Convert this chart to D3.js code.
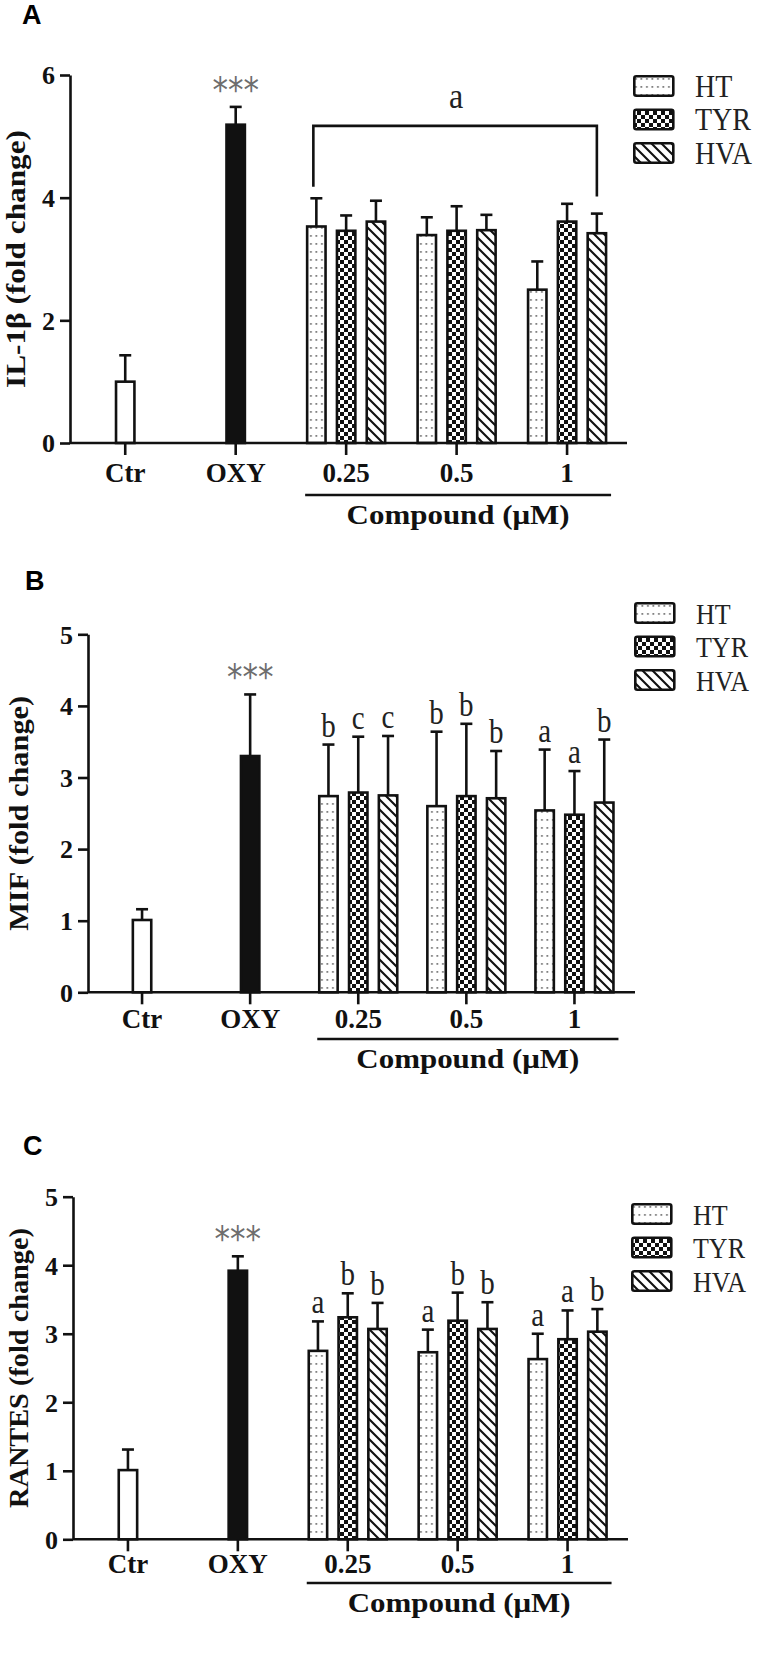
<!DOCTYPE html>
<html><head><meta charset="utf-8">
<script src="https://cdn.jsdelivr.net/npm/d3@7"></script>
<style>body{margin:0;background:#fff} svg{display:block}</style>
</head><body>
<svg id="chart" width="760" height="1660"></svg>
<script>
// ---------- data ----------
const categories = ["Ctr", "OXY", "0.25", "0.5", "1"];
const doses = ["0.25", "0.5", "1"];
const series = ["HT", "TYR", "HVA"];
const panelLetters = ["A", "B", "C"];
const yTitles = ["IL-1β (fold change)", "MIF (fold change)", "RANTES (fold change)"];
const xTitle = "Compound (μM)";
const yTicksA = [0, 2, 4, 6];
const yTicksB = [0, 1, 2, 3, 4, 5];
const yTicksC = [0, 1, 2, 3, 4, 5];

// Panel A: IL-1β
const il1bCtrOxy = [1.00, 5.19];
const il1bCtrOxySD = [0.43, 0.29];
const il1bHT = [3.53, 3.39, 2.50];
const il1bHTsd = [0.46, 0.29, 0.46];
const il1bTYR = [3.46, 3.46, 3.61];
const il1bTYRsd = [0.25, 0.40, 0.29];
const il1bHVA = [3.61, 3.47, 3.42];
const il1bHVAsd = [0.34, 0.25, 0.32];
const il1bBracketLabel = "a";
const il1bBracketLevel = 5.17;
const il1bBracketLegEnds = [4.18, 4.02];

// Panel B: MIF
const mifCtrOxy = [1.01, 3.30];
const mifCtrOxySD = [0.15, 0.86];
const mifHT = [2.74, 2.60, 2.54];
const mifHTsd = [0.72, 1.04, 0.85];
const mifTYR = [2.79, 2.74, 2.48];
const mifTYRsd = [0.78, 1.01, 0.61];
const mifHVA = [2.75, 2.71, 2.65];
const mifHVAsd = [0.83, 0.66, 0.88];
const mifLetters = [["b", "b", "a"], ["c", "b", "a"], ["c", "b", "b"]];

// Panel C: RANTES
const rantesCtrOxy = [1.01, 3.92];
const rantesCtrOxySD = [0.30, 0.21];
const rantesHT = [2.75, 2.73, 2.63];
const rantesHTsd = [0.43, 0.33, 0.37];
const rantesTYR = [3.24, 3.19, 2.92];
const rantesTYRsd = [0.35, 0.41, 0.42];
const rantesHVA = [3.07, 3.07, 3.03];
const rantesHVAsd = [0.38, 0.39, 0.33];
const rantesLetters = [["a", "a", "a"], ["b", "b", "a"], ["b", "b", "b"]];

const sigMark = "***";

// ---------- layout ----------
const panels = [
  { letter: panelLetters[0], title: yTitles[0], ticks: yTicksA, yMax: 6,
    ctr: il1bCtrOxy, ctrSD: il1bCtrOxySD,
    vals: [il1bHT, il1bTYR, il1bHVA], sds: [il1bHTsd, il1bTYRsd, il1bHVAsd], letters: null,
    axisX: 70, top: 75, bottom: 443, rangeEnd: 622.3, axisEnd: 627,
    legend: { x: 633, y: 75 }, legendFont: 28, letterPos: [22, 24],
    titleX: 25, titleLen: 258, compoundY: 495, xLabelY: 482 },
  { letter: panelLetters[1], title: yTitles[1], ticks: yTicksB, yMax: 5,
    ctr: mifCtrOxy, ctrSD: mifCtrOxySD,
    vals: [mifHT, mifTYR, mifHVA], sds: [mifHTsd, mifTYRsd, mifHVAsd], letters: mifLetters,
    axisX: 88, top: 634.3, bottom: 992.3, rangeEnd: 628.5, axisEnd: 635,
    legend: { x: 634, y: 602 }, legendFont: 26, letterPos: [25, 590],
    titleX: 28, titleLen: 235, compoundY: 1039, xLabelY: 1028 },
  { letter: panelLetters[2], title: yTitles[2], ticks: yTicksC, yMax: 5,
    ctr: rantesCtrOxy, ctrSD: rantesCtrOxySD,
    vals: [rantesHT, rantesTYR, rantesHVA], sds: [rantesHTsd, rantesTYRsd, rantesHVAsd], letters: rantesLetters,
    axisX: 73, top: 1196.7, bottom: 1539.3, rangeEnd: 622.5, axisEnd: 628,
    legend: { x: 631, y: 1203 }, legendFont: 26, letterPos: [23, 1155],
    titleX: 28, titleLen: 280, compoundY: 1583, xLabelY: 1573 }
];

const svg = d3.select("#chart");
const SERIF = "'Liberation Serif', 'Times New Roman', serif";
const SW = 2.6;
const barW = 21;
const STRETCH = 1.15; // vertical stretch of the original figure's annotation text

// ---------- patterns ----------
const defs = svg.append("defs");
const pHT = defs.append("pattern").attr("id", "pHT").attr("patternUnits", "userSpaceOnUse")
  .attr("width", 5.5).attr("height", 8);
pHT.append("rect").attr("width", 5.5).attr("height", 8).attr("fill", "#fff");
pHT.append("rect").attr("x", 2).attr("y", 3).attr("width", 1.8).attr("height", 1.8).attr("fill", "#7c7c7c");

const pTYR = defs.append("pattern").attr("id", "pTYR").attr("patternUnits", "userSpaceOnUse")
  .attr("width", 8).attr("height", 8);
pTYR.append("rect").attr("width", 8).attr("height", 8).attr("fill", "#fff");
pTYR.append("rect").attr("x", 0).attr("y", 0).attr("width", 4).attr("height", 4).attr("fill", "#111");
pTYR.append("rect").attr("x", 4).attr("y", 4).attr("width", 4).attr("height", 4).attr("fill", "#111");

const pHVA = defs.append("pattern").attr("id", "pHVA").attr("patternUnits", "userSpaceOnUse")
  .attr("width", 10).attr("height", 10);
pHVA.append("rect").attr("width", 10).attr("height", 10).attr("fill", "#fff");
pHVA.append("path").attr("d", "M-5,5 L5,15 M0,0 L10,10 M5,-5 L15,5")
  .attr("stroke", "#111").attr("stroke-width", 2.1);

const seriesFill = d3.scaleOrdinal().domain(series).range(["url(#pHT)", "url(#pTYR)", "url(#pHVA)"]);
const ctrFill = ["#fff", "#111"];

// ---------- draw panels ----------
panels.forEach((p, pi) => {
  const g = svg.append("g");
  const x = d3.scaleBand().domain(categories).range([p.axisX, p.rangeEnd]);
  const cx = c => x(c) + x.bandwidth() / 2;
  const inner = d3.scalePoint().domain(series).range([-29.8, 29.8]);
  const y = d3.scaleLinear().domain([0, p.yMax]).range([p.bottom, p.top]);

  // panel letter
  g.append("text").attr("x", p.letterPos[0]).attr("y", p.letterPos[1])
    .attr("font-family", "'Liberation Sans', Arial, sans-serif").attr("font-weight", "bold")
    .attr("font-size", 27).text(p.letter);

  // y axis
  const yAxis = g.append("g").attr("transform", `translate(${p.axisX},0)`)
    .call(d3.axisLeft(y).tickValues(p.ticks).tickFormat(d3.format("d")).tickSize(10).tickSizeOuter(0).tickPadding(5));
  yAxis.select(".domain").attr("stroke", "#111").attr("stroke-width", SW);
  yAxis.selectAll(".tick line").attr("stroke", "#111").attr("stroke-width", SW);
  yAxis.selectAll(".tick text").attr("font-family", SERIF).attr("font-weight", "bold")
    .attr("font-size", 26).attr("fill", "#111").attr("dy", "0.34em");

  // y title
  g.append("text")
    .attr("transform", `translate(${p.titleX},${(p.top + p.bottom) / 2}) rotate(-90)`)
    .attr("text-anchor", "middle").attr("font-family", SERIF).attr("font-weight", "bold")
    .attr("font-size", 28).attr("textLength", p.titleLen).attr("lengthAdjust", "spacingAndGlyphs")
    .attr("fill", "#111").text(p.title);

  // bars
  const ctrData = ["Ctr", "OXY"].map((c, i) => ({ c, v: p.ctr[i], sd: p.ctrSD[i], fill: ctrFill[i], x: cx(c) }));
  const grpData = [];
  series.forEach((s, si) => doses.forEach((d, di) => grpData.push({
    s, d, v: p.vals[si][di], sd: p.sds[si][di], fill: seriesFill(s), x: cx(d) + inner(s),
    letter: p.letters ? p.letters[si][di] : null })));
  const all = ctrData.concat(grpData);

  // error bars (behind bars)
  const eb = g.append("g").attr("stroke", "#111").attr("stroke-width", SW);
  eb.selectAll("line.v").data(all).join("line").attr("class", "v")
    .attr("x1", d => d.x).attr("x2", d => d.x).attr("y1", d => y(d.v)).attr("y2", d => y(d.v + d.sd));
  eb.selectAll("line.c").data(all).join("line").attr("class", "c")
    .attr("x1", d => d.x - 6).attr("x2", d => d.x + 6).attr("y1", d => y(d.v + d.sd)).attr("y2", d => y(d.v + d.sd));

  g.append("g").selectAll("rect").data(all).join("rect")
    .attr("x", d => d.x - barW / 2 + SW / 2).attr("width", barW - SW)
    .attr("y", d => y(d.v)).attr("height", d => y(0) - y(d.v))
    .attr("fill", d => d.fill).attr("stroke", "#111").attr("stroke-width", SW);

  // x axis
  g.append("line").attr("x1", p.axisX).attr("x2", p.axisEnd).attr("y1", y(0)).attr("y2", y(0))
    .attr("stroke", "#111").attr("stroke-width", SW);
  const xAxis = g.append("g").attr("transform", `translate(0,${y(0)})`)
    .call(d3.axisBottom(x).tickSize(12).tickSizeOuter(0));
  xAxis.select(".domain").remove();
  xAxis.selectAll(".tick line").attr("stroke", "#111").attr("stroke-width", SW);
  xAxis.selectAll(".tick text").attr("font-family", SERIF).attr("font-weight", "bold")
    .attr("font-size", 27).attr("fill", "#111").attr("dy", null)
    .attr("y", p.xLabelY - y(0));

  // compound line and label
  const lx1 = cx(doses[0]) - 41, lx2 = cx(doses[2]) + 44;
  g.append("line").attr("x1", lx1).attr("x2", lx2).attr("y1", p.compoundY).attr("y2", p.compoundY)
    .attr("stroke", "#111").attr("stroke-width", SW);
  g.append("text").attr("x", (lx1 + lx2) / 2).attr("y", p.compoundY + 29)
    .attr("text-anchor", "middle").attr("font-family", SERIF).attr("font-weight", "bold")
    .attr("font-size", 28).attr("textLength", 223).attr("lengthAdjust", "spacingAndGlyphs")
    .attr("fill", "#111").text(xTitle);

  // significance stars over OXY
  const oxy = ctrData[1];
  g.append("text")
    .attr("transform", `translate(${oxy.x},${y(oxy.v + oxy.sd) - 5}) scale(1,${STRETCH})`)
    .attr("text-anchor", "middle").attr("font-family", "'DejaVu Sans', sans-serif")
    .attr("font-size", 31).attr("fill", "#6e6e6e").text(sigMark);

  // letters above error bars
  if (p.letters) {
    g.append("g").selectAll("text").data(grpData).join("text")
      .attr("transform", d => `translate(${d.x},${y(d.v + d.sd) - 8}) scale(1,${STRETCH})`)
      .attr("text-anchor", "middle").attr("font-family", SERIF).attr("font-size", 29)
      .attr("fill", "#222").text(d => d.letter);
  } else {
    // bracket for panel A
    const bx1 = cx(doses[0]) + inner(series[0]) - 3, bx2 = cx(doses[2]) + inner(series[2]);
    const by = y(il1bBracketLevel);
    g.append("path")
      .attr("d", `M${bx1},${y(il1bBracketLegEnds[0])} L${bx1},${by} L${bx2},${by} L${bx2},${y(il1bBracketLegEnds[1])}`)
      .attr("fill", "none").attr("stroke", "#111").attr("stroke-width", SW);
    g.append("text")
      .attr("transform", `translate(${(bx1 + bx2) / 2 + 1},${by - 18}) scale(1,${STRETCH})`)
      .attr("text-anchor", "middle").attr("font-family", SERIF).attr("font-size", 32)
      .attr("fill", "#222").text(il1bBracketLabel);
  }

  // legend
  const lg = g.append("g").attr("transform", `translate(${p.legend.x},${p.legend.y})`);
  const ly = d3.scalePoint().domain(series).range([0, 67]);
  series.forEach(s => {
    lg.append("rect").attr("x", 1.3).attr("y", ly(s) + 1.3).attr("width", 39).attr("height", 19.5)
      .attr("rx", 2).attr("fill", seriesFill(s)).attr("stroke", "#111").attr("stroke-width", SW);
    lg.append("text")
      .attr("transform", `translate(62,${ly(s) + 21.5}) scale(1,${STRETCH})`)
      .attr("font-family", SERIF).attr("font-size", p.legendFont).attr("fill", "#222").text(s);
  });
});
</script>
</body></html>
